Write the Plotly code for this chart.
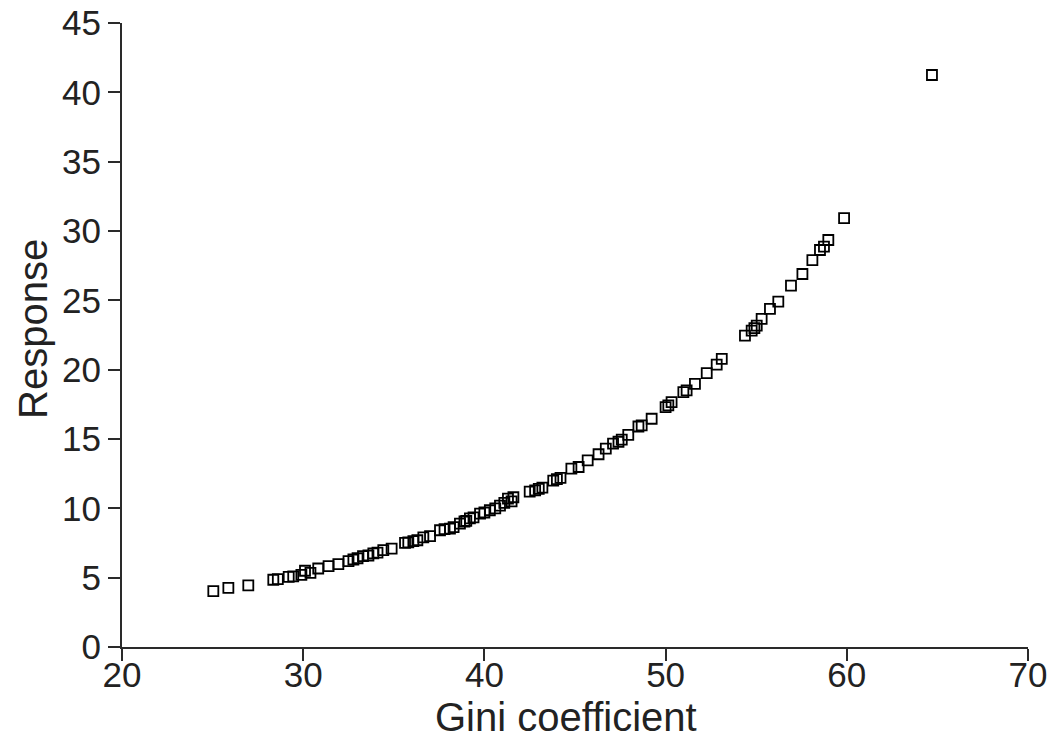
import plotly.graph_objects as go

gini = [25.04, 25.87, 26.97, 28.35, 28.6, 29.2, 29.45, 29.9, 30.1, 30.4, 30.83, 31.4, 31.94,
        32.5, 32.77, 33.0, 33.3, 33.6, 33.87, 34.1, 34.42, 34.88, 35.62, 35.8, 36.08, 36.3,
        36.63, 37.0, 37.55, 37.8, 38.1, 38.3, 38.65, 38.9, 39.0, 39.2, 39.4, 39.76, 40.0,
        40.3, 40.6, 40.86, 41.1, 41.3, 41.5, 41.6, 42.5, 42.8, 43.0, 43.2, 43.8, 44.0, 44.2,
        44.8, 45.2, 45.7, 46.3, 46.7, 47.1, 47.4, 47.58, 47.94, 48.5, 48.68, 49.23, 50.0,
        50.15, 50.33, 50.98, 51.16, 51.62, 52.27, 52.82, 53.1, 54.38, 54.75, 54.9, 55.03,
        55.3, 55.76, 56.22, 56.92, 57.55, 58.1, 58.52, 58.74, 58.98, 59.85, 64.7]
response = [4.03, 4.27, 4.44, 4.85, 4.9, 5.05, 5.1, 5.2, 5.5, 5.35, 5.66, 5.83, 5.97,
            6.2, 6.31, 6.4, 6.55, 6.6, 6.75, 6.8, 6.98, 7.1, 7.51, 7.55, 7.63, 7.7,
            7.9, 7.99, 8.42, 8.5, 8.54, 8.65, 8.9, 9.05, 9.1, 9.27, 9.35, 9.62, 9.7,
            9.86, 10.0, 10.2, 10.4, 10.7, 10.5, 10.8, 11.2, 11.3, 11.4, 11.5, 12.0, 12.1, 12.2,
            12.86, 12.98, 13.46, 13.9, 14.3, 14.67, 14.8, 14.95, 15.3, 15.9, 15.98, 16.46, 17.3,
            17.42, 17.66, 18.38, 18.5, 18.98, 19.75, 20.37, 20.78, 22.46, 22.82, 23.0, 23.18,
            23.66, 24.38, 24.9, 26.06, 26.9, 27.9, 28.63, 28.87, 29.35, 30.93, 41.25]

x_ticks = [20, 30, 40, 50, 60, 70]
y_ticks = [0, 5, 10, 15, 20, 25, 30, 35, 40, 45]
x_title = "Gini coefficient"
y_title = "Response"

font_family = "Liberation Sans, Arial, sans-serif"
axis_color = "#2a2a2a"
text_color = "#222"

fig = go.Figure()
fig.add_trace(go.Scatter(
    x=gini, y=response, mode="markers",
    marker=dict(symbol="square-open", size=10, color="black",
                line=dict(color="black", width=1.8)),
    showlegend=False,
))

axis_common = dict(
    showline=True, linecolor=axis_color, linewidth=2,
    ticks="outside", ticklen=12, tickwidth=2, tickcolor=axis_color,
    showgrid=False, zeroline=False, automargin=False,
    tickfont=dict(family=font_family, size=35, color=text_color),
)

fig.update_layout(
    width=1053, height=744,
    margin=dict(l=122, r=25, t=23, b=97),
    paper_bgcolor="white", plot_bgcolor="white",
    xaxis=dict(range=[20, 70], tickvals=x_ticks, ticktext=[str(v) for v in x_ticks],
               ticklabelstandoff=-16, **axis_common),
    yaxis=dict(range=[0, 45], tickvals=y_ticks, ticktext=[str(v) for v in y_ticks],
               **axis_common),
    annotations=[
        dict(text=x_title, xref="paper", yref="paper", x=0.49, y=-0.112,
             xanchor="center", yanchor="middle", showarrow=False,
             font=dict(family=font_family, size=40, color=text_color)),
        dict(text=y_title, xref="paper", yref="paper", x=-0.098, y=0.51,
             xanchor="center", yanchor="middle", showarrow=False, textangle=-90,
             font=dict(family=font_family, size=40, color=text_color)),
    ],
)

fig.write_html("out.html")
